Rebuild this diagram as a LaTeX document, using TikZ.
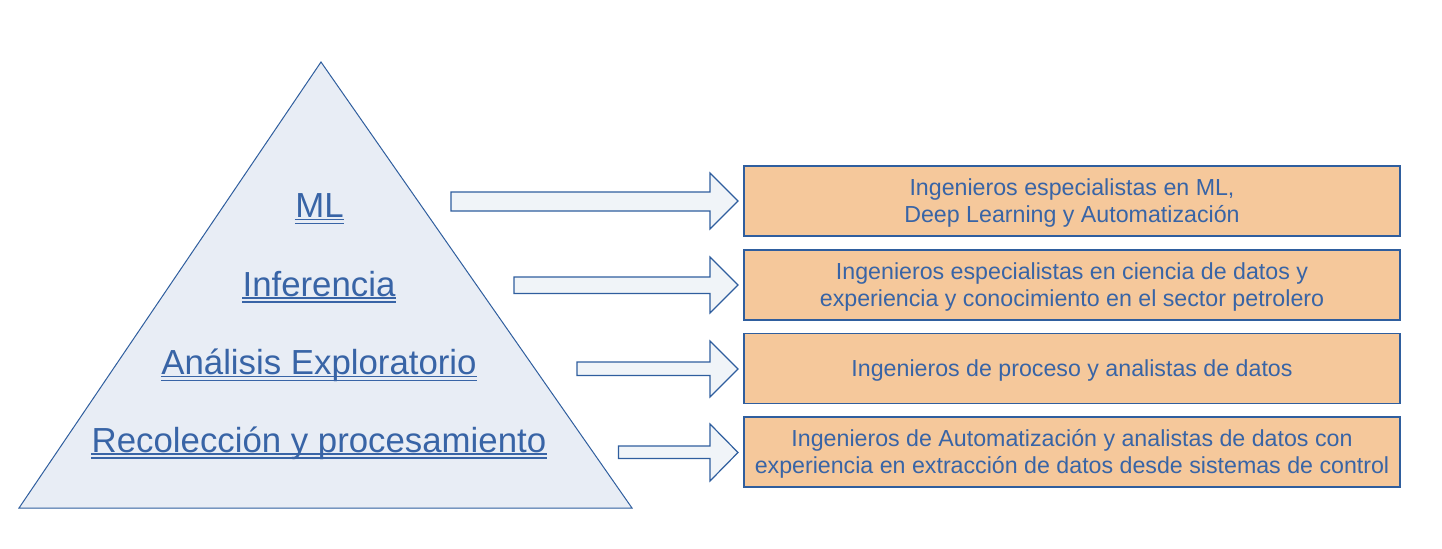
\documentclass[tikz,border=0pt]{standalone}
\usepackage{fontspec}
\setmainfont{Liberation Sans}
\usetikzlibrary{calc}
\definecolor{txtblue}{RGB}{56,100,166}
\definecolor{lineblue}{RGB}{47,94,158}
\definecolor{trifill}{RGB}{232,237,245}
\definecolor{arrfill}{RGB}{240,244,248}
\definecolor{boxfill}{RGB}{245,200,155}
\tikzset{
  level/.style={inner sep=0pt, anchor=base, text=txtblue, font=\fontsize{17.4}{20}\selectfont},
  rolebox/.style={draw=lineblue, line width=0.6pt, fill=boxfill, minimum width=328pt, minimum height=35pt, inner sep=0pt},
  roletext/.style={inner sep=0pt, text=txtblue, align=center, font=\fontsize{11.6}{13.4}\selectfont},
  blockarrow/.style={draw=lineblue, line width=0.6pt, fill=arrfill},
  uline/.style={draw=txtblue, line width=0.75pt}
}
\newcommand{\dblu}[1]{%
  \draw[uline] ([yshift=-1pt]#1.base west) -- ([yshift=-1pt]#1.base east);
  \draw[uline] ([yshift=-3pt]#1.base west) -- ([yshift=-3pt]#1.base east);}
% block arrow: tail x, shaft top, shaft bottom, head top, head bottom, tip y
\newcommand{\barrow}[6]{%
  \path[blockarrow] (#1,#2) -- (710,#2) -- (710,#4) -- (738,#6) -- (710,#5) -- (710,#3) -- (#1,#3) -- cycle;}
\begin{document}
\begin{tikzpicture}[x=0.5pt,y=-0.5pt]
\useasboundingbox (0,0) rectangle (1442,548);
% pyramid
\coordinate (apex) at (321,62);
\coordinate (bl) at (19,508);
\coordinate (br) at (632,508);
\path[draw=lineblue, line width=0.5pt, fill=trifill] (apex) -- (br) -- (bl) -- cycle;
\node[level] (ml) at (319.5,217.5) {ML};
\node[level] (inf) at (319,296) {Inferencia};
\node[level] (ana) at (319,374.5) {Análisis Exploratorio};
\node[level] (rec) at (319,452) {Recolección y procesamiento};
\dblu{ml}\dblu{inf}\dblu{ana}\dblu{rec}
% arrows
\barrow{451}{192}{211}{173}{229}{201}
\barrow{514}{277}{293.5}{257}{313}{285}
\barrow{577}{362}{375.5}{341}{397}{369}
\barrow{618.5}{446}{458.5}{424}{481}{452.5}
% boxes
\node[rolebox] (b1) at (1072,201) {};
\node[rolebox] (b2) at (1072,285) {};
\node[rolebox] (b3) at (1072,368.5) {};
\node[rolebox] (b4) at (1072,452) {};
\node[roletext] (t1) at ([yshift=-0.8pt]b1.center) {Ingenieros especialistas en ML,\\ Deep Learning y Automatización};
\node[roletext] (t2) at ([yshift=-0.8pt]b2.center) {Ingenieros especialistas en ciencia de datos y\\experiencia y conocimiento en el sector petrolero};
\node[roletext] (t3) at ([yshift=-0.8pt]b3.center) {Ingenieros de proceso y analistas de datos};
\node[roletext] (t4) at ([yshift=-0.8pt]b4.center) {Ingenieros de Automatización y analistas de datos con\\experiencia en extracción de datos desde sistemas de control};
\end{tikzpicture}
\end{document}
